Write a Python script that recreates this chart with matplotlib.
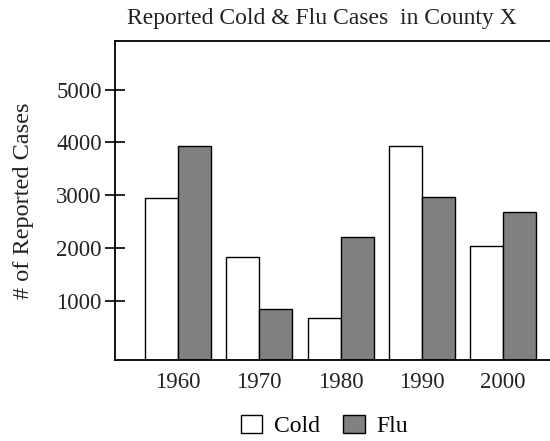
import matplotlib.pyplot as plt
import numpy as np

plt.rcParams['font.family'] = ['Liberation Serif', 'DejaVu Serif']

years = ['1960', '1970', '1980', '1990', '2000']
cold = [2955, 1825, 680, 3940, 2040]
flu = [3940, 845, 2210, 2975, 2680]
yticks = [1000, 2000, 3000, 4000, 5000]

ymin = -125
x = np.arange(len(years))
w = 0.405

fig = plt.figure(figsize=(5.5, 4.41), dpi=100)
ax = fig.add_axes([0.209, 0.1837, 0.791, 0.724])

ax.bar(x - w / 2, np.array(cold) - ymin, w, bottom=ymin, color='white',
       edgecolor='black', linewidth=1.0, label='Cold')
ax.bar(x + w / 2, np.array(flu) - ymin, w, bottom=ymin, color='#808080',
       edgecolor='black', linewidth=1.0, label='Flu')

ax.set_ylim(ymin, 5930)
ax.set_xlim(-0.775, 4.575)
ax.set_yticks(yticks)
ax.set_yticklabels([str(v) for v in yticks], fontsize=16.5, color='#222222')
ax.set_xticks(x)
ax.set_xticklabels(years, fontsize=16.5, color='#222222')
ax.tick_params(axis='y', direction='inout', length=15, width=1.2, pad=2)
ax.tick_params(axis='x', length=0, pad=9)
ax.spines['right'].set_visible(False)
for s in ['left', 'top', 'bottom']:
    ax.spines[s].set_linewidth(1.3)

ax.set_ylabel('# of Reported Cases', fontsize=17.5, color='#222222', labelpad=16)
fig.text(0.586, 0.957, 'Reported Cold & Flu Cases  in County X', ha='center',
         va='center', fontsize=17, color='#222222')

fig.legend(loc='center', bbox_to_anchor=(0.59, 0.034), ncol=2, frameon=False,
           fontsize=17, handlelength=0.9, handleheight=0.8, handletextpad=0.5,
           columnspacing=1.0, borderpad=0.2)

fig.savefig('out.png', dpi=100)
